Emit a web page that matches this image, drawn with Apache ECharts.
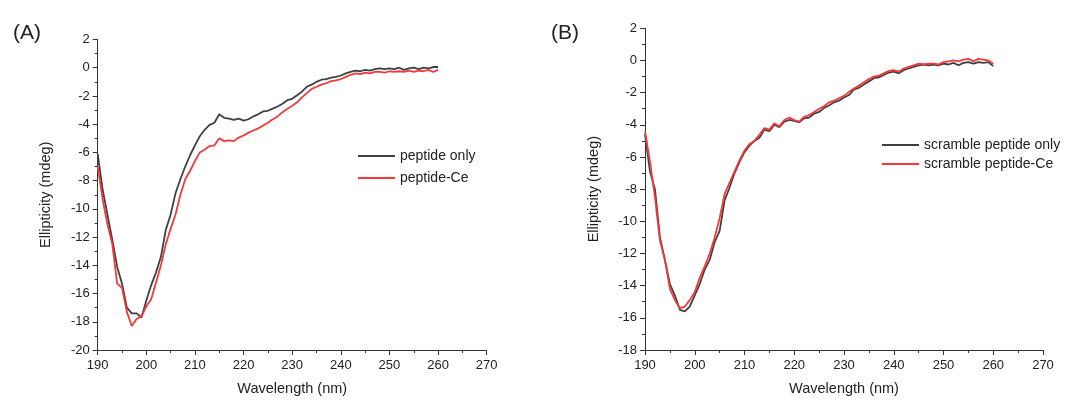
<!DOCTYPE html>
<html>
<head>
<meta charset="utf-8">
<script src="https://cdn.jsdelivr.net/npm/echarts@6/dist/echarts.min.js"></script>
<style>
html,body{margin:0;padding:0;background:#fff;}
#c{width:1087px;height:401px;}
</style>
</head>
<body>
<div id="c"></div>
<script>
const wavelength = [190,191,192,193,194,195,196,197,198,199,200,201,202,203,204,205,206,207,208,209,210,211,212,213,214,215,216,217,218,219,220,221,222,223,224,225,226,227,228,229,230,231,232,233,234,235,236,237,238,239,240,241,242,243,244,245,246,247,248,249,250,251,252,253,254,255,256,257,258,259,260];

const peptideOnly = [-6.1,-8.6,-10.4,-12.2,-14.1,-15.3,-17.0,-17.4,-17.4,-17.7,-16.5,-15.4,-14.5,-13.4,-11.5,-10.4,-8.9,-7.9,-7.0,-6.2,-5.5,-4.85,-4.4,-4.05,-3.9,-3.3,-3.55,-3.6,-3.7,-3.6,-3.75,-3.65,-3.45,-3.3,-3.1,-3.05,-2.9,-2.75,-2.55,-2.3,-2.2,-1.95,-1.7,-1.35,-1.2,-1.0,-0.85,-0.8,-0.7,-0.65,-0.55,-0.4,-0.3,-0.2,-0.25,-0.15,-0.2,-0.1,-0.05,-0.1,-0.05,-0.1,0.0,-0.15,-0.05,0.0,-0.1,0.0,-0.05,0.05,0.05];

const peptideCe = [-7.0,-9.3,-11.1,-12.5,-15.3,-15.6,-17.3,-18.3,-17.8,-17.6,-16.9,-16.4,-15.2,-14.0,-12.5,-11.4,-10.4,-9.0,-7.9,-7.3,-6.6,-6.0,-5.8,-5.55,-5.5,-5.0,-5.2,-5.15,-5.2,-4.95,-4.8,-4.6,-4.45,-4.3,-4.1,-3.9,-3.65,-3.45,-3.15,-2.9,-2.7,-2.45,-2.1,-1.8,-1.5,-1.35,-1.2,-1.1,-0.95,-0.9,-0.8,-0.65,-0.5,-0.4,-0.45,-0.35,-0.4,-0.3,-0.3,-0.35,-0.25,-0.3,-0.25,-0.3,-0.2,-0.3,-0.2,-0.25,-0.15,-0.3,-0.15];

const scrambleOnly = [-4.6,-6.9,-8.0,-11.0,-12.4,-13.9,-14.6,-15.5,-15.6,-15.3,-14.6,-13.9,-13.0,-12.4,-11.3,-10.6,-8.7,-7.9,-7.0,-6.3,-5.7,-5.3,-5.0,-4.8,-4.3,-4.4,-4.0,-4.15,-3.8,-3.7,-3.75,-3.85,-3.6,-3.55,-3.3,-3.2,-2.95,-2.8,-2.6,-2.5,-2.3,-2.15,-1.8,-1.7,-1.5,-1.3,-1.1,-1.05,-0.9,-0.75,-0.7,-0.8,-0.6,-0.5,-0.4,-0.3,-0.25,-0.3,-0.25,-0.3,-0.2,-0.25,-0.15,-0.3,-0.15,-0.1,-0.2,-0.1,-0.15,-0.1,-0.35];

const scrambleCe = [-4.4,-6.3,-8.5,-11.2,-12.4,-14.2,-14.9,-15.4,-15.3,-14.9,-14.4,-13.5,-12.8,-12.0,-11.0,-9.8,-8.3,-7.6,-6.9,-6.2,-5.6,-5.2,-5.0,-4.6,-4.2,-4.3,-3.9,-4.1,-3.7,-3.55,-3.7,-3.8,-3.5,-3.4,-3.2,-3.0,-2.85,-2.6,-2.5,-2.35,-2.2,-1.95,-1.75,-1.55,-1.35,-1.15,-1.0,-0.95,-0.8,-0.65,-0.6,-0.7,-0.5,-0.4,-0.3,-0.2,-0.25,-0.2,-0.2,-0.25,-0.1,-0.05,0.0,-0.05,0.05,0.1,-0.05,0.1,0.05,0.0,-0.2];

const panelLabels = ['(A)', '(B)'];
const seriesNamesA = ['peptide only', 'peptide-Ce'];
const seriesNamesB = ['scramble peptide only', 'scramble peptide-Ce'];
const xName = 'Wavelength (nm)';
const yName = 'Ellipticity (mdeg)';

const BLACK = '#404040';
const RED = '#f23a3a';
const FONT = 'Liberation Sans, Arial, sans-serif';

function pairs(vals){ return wavelength.map((w,i)=>[w, vals[i]]); }

function xAxis(gi){
  return {
    type:'value', gridIndex:gi, min:190, max:270, interval:10,
    name:xName, nameLocation:'middle', nameGap:31,
    nameTextStyle:{fontFamily:FONT, fontSize:14.5, color:'#222'},
    axisLine:{show:true, onZero:false, lineStyle:{color:'#333', width:1}},
    axisTick:{show:true, inside:false, length:5, lineStyle:{color:'#333'}},
    minorTick:{show:true, splitNumber:2, length:3, lineStyle:{color:'#333'}},
    axisLabel:{fontFamily:FONT, fontSize:13, color:'#222', margin:9},
    splitLine:{show:false}
  };
}
function yAxis(gi, mn){
  return {
    type:'value', gridIndex:gi, min:mn, max:2, interval:2,
    name:yName, nameLocation:'middle', nameGap:44, nameRotate:90,
    nameTextStyle:{fontFamily:FONT, fontSize:14.5, color:'#222'},
    axisLine:{show:true, onZero:false, lineStyle:{color:'#333', width:1}},
    axisTick:{show:true, inside:false, length:5, lineStyle:{color:'#333'}},
    minorTick:{show:true, splitNumber:2, length:3, lineStyle:{color:'#333'}},
    axisLabel:{fontFamily:FONT, fontSize:13, color:'#222', margin:8},
    splitLine:{show:false}
  };
}
function line(name, vals, color, xi){
  return {
    type:'line', name:name, xAxisIndex:xi, yAxisIndex:xi,
    data:pairs(vals), showSymbol:false, symbol:'none',
    lineStyle:{color:color, width:1.8}, itemStyle:{color:color},
    animation:false
  };
}

const chart = echarts.init(document.getElementById('c'), null, {renderer:'canvas'});
chart.setOption({
  backgroundColor:'#fff',
  animation:false,
  title:[
    {text:panelLabels[0], left:8, top:18, textStyle:{fontFamily:FONT, fontSize:21, fontWeight:'normal', color:'#222'}},
    {text:panelLabels[1], left:546, top:18, textStyle:{fontFamily:FONT, fontSize:21, fontWeight:'normal', color:'#222'}}
  ],
  grid:[
    {left:97.7, right:600.3, top:39.5, bottom:48.3},
    {left:645, right:44, top:28.3, bottom:50.3}
  ],
  xAxis:[xAxis(0), xAxis(1)],
  yAxis:[yAxis(0,-20), yAxis(1,-18)],
  legend:[
    {data:seriesNamesA, orient:'vertical', left:358, top:149, itemWidth:37, itemHeight:14, itemGap:8,
     textStyle:{fontFamily:FONT, fontSize:14, color:'#222'}, icon:'path://M0,0 L37,0 L37,2 L0,2 Z', padding:0},
    {data:seriesNamesB, orient:'vertical', left:882, top:138, itemWidth:37, itemHeight:14, itemGap:5,
     textStyle:{fontFamily:FONT, fontSize:14, color:'#222'}, icon:'path://M0,0 L37,0 L37,2 L0,2 Z', padding:0}
  ],
  series:[
    line(seriesNamesA[0], peptideOnly, BLACK, 0),
    line(seriesNamesA[1], peptideCe, RED, 0),
    line(seriesNamesB[0], scrambleOnly, BLACK, 1),
    line(seriesNamesB[1], scrambleCe, RED, 1)
  ]
});
</script>
</body>
</html>
